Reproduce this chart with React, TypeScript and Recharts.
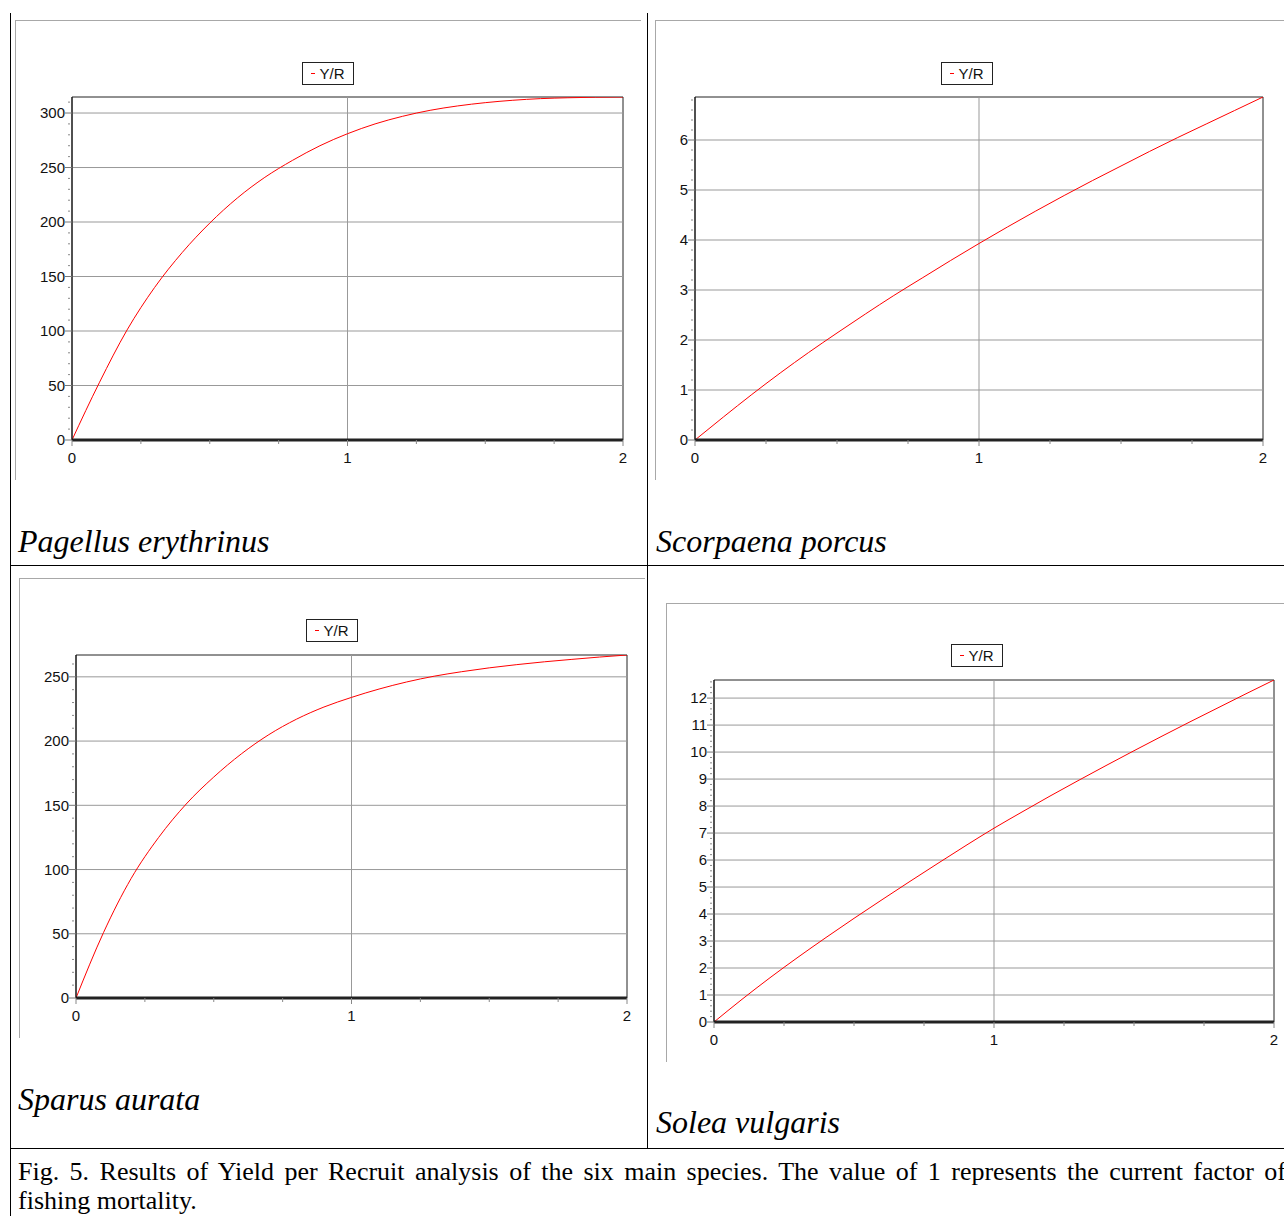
import React from "react"
import { LineChart, Line, XAxis, YAxis, ReferenceLine, ReferenceArea, Legend } from "recharts"

// fishing mortality factor (x)
const F_FACTOR = [0, 0.1, 0.2, 0.3, 0.4, 0.5, 0.6, 0.7, 0.8, 0.9, 1.0, 1.1, 1.2, 1.3, 1.4, 1.5, 1.6, 1.7, 1.8, 1.9, 2.0]

// yield per recruit
const PAGELLUS = [0, 53, 101, 140, 172, 199, 222, 241, 256.5, 270, 281, 290, 297, 302.5, 306.5, 309.5, 311.7, 313.2, 314, 314.5, 314.7]
const SCORPAENA = [0, 0.46, 0.91, 1.34, 1.75, 2.14, 2.52, 2.89, 3.24, 3.59, 3.93, 4.26, 4.58, 4.89, 5.19, 5.48, 5.77, 6.05, 6.32, 6.59, 6.86]
const SPARUS = [0, 51, 93, 125, 151, 172, 190, 205, 217, 226.5, 234, 240.5, 246, 250.5, 254, 257, 259.5, 261.7, 263.6, 265.4, 267]
const SOLEA = [0, 0.84, 1.64, 2.4, 3.13, 3.84, 4.53, 5.21, 5.88, 6.54, 7.18, 7.78, 8.37, 8.94, 9.5, 10.05, 10.59, 11.12, 11.64, 12.16, 12.67]

const X_TICKS = [0, 0.25, 0.5, 0.75, 1, 1.25, 1.5, 1.75, 2]
const X_LABELS = [0, 1, 2]
const PAGELLUS_TICKS = [0, 50, 100, 150, 200, 250, 300]
const SCORPAENA_TICKS = [0, 1, 2, 3, 4, 5, 6]
const SPARUS_TICKS = [0, 50, 100, 150, 200, 250]
const SOLEA_TICKS = [0, 1, 2, 3, 4, 5, 6, 7, 8, 9, 10, 11, 12]

const SPECIES = ["Pagellus erythrinus", "Scorpaena porcus", "Sparus aurata", "Solea vulgaris"]
const CAPTION_1 = "Fig. 5. Results of Yield per Recruit analysis of the six main species. The value of 1 represents the current factor of"
const CAPTION_2 = "fishing mortality."

const AXIS_FONT = "'Liberation Sans', Arial, sans-serif"
const SERIF = "'Liberation Serif', 'Times New Roman', serif"

const minorTicks = (step: number, max: number) => {
  const out: number[] = []
  for (let i = 0; i * step <= max + 1e-9; i++) out.push(Math.round(i * step * 1000) / 1000)
  return out
}

const same = (a: number, b: number) => Math.abs(a - b) < 1e-6

const makeYTick = (major: number[]) => (props: any) => {
  const { x, y, payload } = props
  const ax = x + 7
  const isMajor = major.some((m) => same(m, payload.value))
  if (!isMajor) {
    return <line x1={ax - 4} x2={ax - 2} y1={y} y2={y} stroke="#888" />
  }
  return (
    <g>
      <line x1={ax - 7} x2={ax} y1={y} y2={y} stroke="#777" />
      <text x={ax - 7} y={y} dy="0.36em" textAnchor="end" fontSize={15} fontFamily={AXIS_FONT} fill="#111">
        {payload.value}
      </text>
    </g>
  )
}

const XTick = (props: any) => {
  const { x, y, payload } = props
  const axisY = y - 12
  const isMajor = X_LABELS.some((m) => same(m, payload.value))
  return (
    <g>
      <line x1={x} x2={x} y1={axisY} y2={axisY + (isMajor ? 6 : 4)} stroke="#888" />
      {isMajor && (
        <text x={x} y={y} dy="0.71em" textAnchor="middle" fontSize={15} fontFamily={AXIS_FONT} fill="#111">
          {payload.value}
        </text>
      )}
    </g>
  )
}

const legendBox = (center: number, h: number) => () => (
  <div style={{ position: "relative", height: h, width: "100%" }}>
    <div
      style={{
        position: "absolute",
        left: center - 26,
        top: 0,
        width: 52,
        height: 23,
        boxSizing: "border-box",
        border: "1px solid #222",
        background: "#fff",
        display: "flex",
        alignItems: "center",
        justifyContent: "center",
        fontFamily: AXIS_FONT,
        fontSize: 15,
        color: "#111",
      }}
    >
      <span style={{ display: "inline-block", width: 4, height: 1, background: "#f00", marginRight: 4 }} />
      Y/R
    </div>
  </div>
)

interface PanelProps {
  left: number
  top: number
  width: number
  height: number
  plotLeft: number
  plotRight: number
  plotTop: number
  plotBottom: number
  legendTop: number
  legendCenter: number
  values: number[]
  ticks: number[]
  minorStep: number
  yMax: number
}

function Panel(p: PanelProps) {
  const data = F_FACTOR.map((f, i) => ({ f, yr: p.values[i] }))
  const yAxisWidth = p.plotLeft - p.left
  const xAxisHeight = 30
  const margin = {
    top: p.legendTop - p.top,
    right: p.left + p.width - p.plotRight,
    bottom: p.top + p.height - p.plotBottom - xAxisHeight,
    left: 0,
  }
  const yTicks = minorTicks(p.minorStep, p.yMax)
  return (
    <>
      <div
        style={{
          position: "absolute",
          left: p.left,
          top: p.top,
          width: p.width,
          height: p.height,
          borderTop: "1px solid #a8a8a8",
          borderLeft: "1px solid #a8a8a8",
          boxSizing: "border-box",
        }}
      />
      <div style={{ position: "absolute", left: p.left, top: p.top }}>
        <LineChart width={p.width} height={p.height} data={data} margin={margin}>
          <Legend
            verticalAlign="top"
            align="center"
            content={legendBox(p.legendCenter - p.left, p.plotTop - p.legendTop)}
          />
          <XAxis
            dataKey="f"
            type="number"
            domain={[0, 2]}
            ticks={X_TICKS}
            interval={0}
            height={xAxisHeight}
            tickSize={5}
            tickMargin={7}
            tickLine={false}
            tick={XTick}
            axisLine={{ stroke: "#222", strokeWidth: 3 }}
          />
          <YAxis
            type="number"
            domain={[0, p.yMax]}
            allowDataOverflow
            ticks={yTicks}
            interval={0}
            width={yAxisWidth}
            tickSize={6}
            tickMargin={1}
            tickLine={false}
            tick={makeYTick(p.ticks)}
            axisLine={{ stroke: "#111" }}
          />
          {p.ticks
            .filter((v) => v > 0)
            .map((v) => (
              <ReferenceLine key={v} y={v} stroke="#999" ifOverflow="visible" />
            ))}
          <ReferenceLine x={1} stroke="#999" />
          <ReferenceArea x1={0} x2={2} y1={0} y2={p.yMax} fill="none" stroke="#222" ifOverflow="visible" />
          <Line
            dataKey="yr"
            type="monotone"
            stroke="#ff0000"
            strokeWidth={1}
            dot={false}
            isAnimationActive={false}
          />
        </LineChart>
      </div>
    </>
  )
}

const titleStyle = (left: number, top: number): React.CSSProperties => ({
  position: "absolute",
  left,
  top,
  fontFamily: SERIF,
  fontStyle: "italic",
  fontSize: 32,
  lineHeight: "32px",
  color: "#000",
  whiteSpace: "nowrap",
})

const rule = (left: number, top: number, w: number, h: number): React.CSSProperties => ({
  position: "absolute",
  left,
  top,
  width: w,
  height: h,
  background: "#000",
})

export default function App() {
  return (
    <div
      style={{
        position: "absolute",
        left: 0,
        top: 0,
        width: 1284,
        height: 1216,
        overflow: "hidden",
        background: "#fff",
      }}
    >
      {/* table rules */}
      <div style={rule(10, 13, 1, 1203)} />
      <div style={rule(647, 13, 1, 1135)} />
      <div style={rule(10, 565, 1274, 1)} />
      <div style={rule(10, 1148, 1274, 1)} />

      <Panel
        left={15} top={20} width={626} height={460}
        plotLeft={72} plotRight={623} plotTop={97} plotBottom={440}
        legendTop={62} legendCenter={328}
        values={PAGELLUS} ticks={PAGELLUS_TICKS} minorStep={10} yMax={314.7}
      />
      <Panel
        left={655} top={20} width={629} height={460}
        plotLeft={695} plotRight={1263} plotTop={97} plotBottom={440}
        legendTop={62} legendCenter={967}
        values={SCORPAENA} ticks={SCORPAENA_TICKS} minorStep={0.2} yMax={6.86}
      />
      <Panel
        left={19} top={578} width={626} height={460}
        plotLeft={76} plotRight={627} plotTop={655} plotBottom={998}
        legendTop={619} legendCenter={332}
        values={SPARUS} ticks={SPARUS_TICKS} minorStep={10} yMax={267}
      />
      <Panel
        left={666} top={603} width={618} height={459}
        plotLeft={714} plotRight={1274} plotTop={680} plotBottom={1022}
        legendTop={644} legendCenter={977}
        values={SOLEA} ticks={SOLEA_TICKS} minorStep={0.2} yMax={12.67}
      />

      <div style={titleStyle(18, 525)}>{SPECIES[0]}</div>
      <div style={titleStyle(656, 525)}>{SPECIES[1]}</div>
      <div style={titleStyle(18, 1083)}>{SPECIES[2]}</div>
      <div style={titleStyle(656, 1106)}>{SPECIES[3]}</div>

      <div
        style={{
          position: "absolute",
          left: 18,
          top: 1159,
          width: 1268,
          fontFamily: SERIF,
          fontSize: 26,
          lineHeight: "26px",
          whiteSpace: "nowrap",
          textAlign: "justify",
          textAlignLast: "justify",
          color: "#000",
        }}
      >
        {CAPTION_1}
      </div>
      <div
        style={{
          position: "absolute",
          left: 18,
          top: 1188,
          fontFamily: SERIF,
          fontSize: 26,
          lineHeight: "26px",
          whiteSpace: "nowrap",
          color: "#000",
        }}
      >
        {CAPTION_2}
      </div>
    </div>
  )
}
